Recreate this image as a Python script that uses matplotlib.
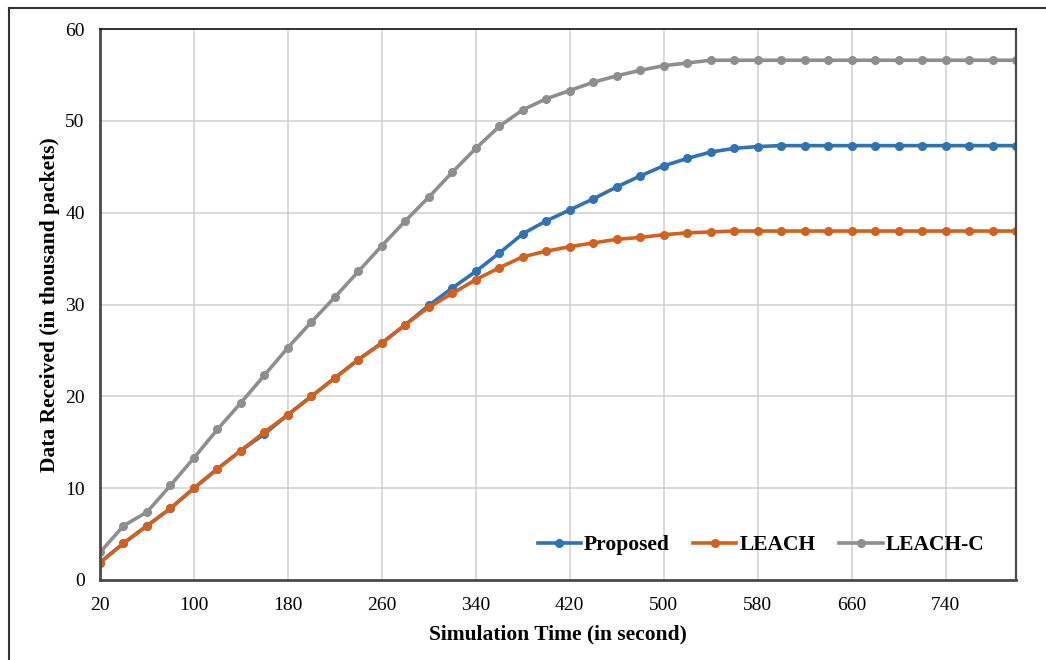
# Data received vs simulation time (Proposed / LEACH / LEACH-C)

import numpy as np
import matplotlib.pyplot as plt
from matplotlib.lines import Line2D

plt.rcParams['font.family'] = ['Liberation Serif', 'DejaVu Serif']

time_s = list(range(20, 801, 20))

proposed = [1.9, 4.0, 5.9, 7.8, 10.0, 12.1, 14.1, 15.9, 18.0, 20.0,
            22.0, 24.0, 25.8, 27.8, 29.9, 31.8, 33.6, 35.6, 37.7, 39.1,
            40.3, 41.5, 42.8, 44.0, 45.1, 45.9, 46.6, 47.0, 47.2, 47.3,
            47.3, 47.3, 47.3, 47.3, 47.3, 47.3, 47.3, 47.3, 47.3, 47.3]

leach = [1.9, 4.0, 5.9, 7.8, 10.0, 12.1, 14.1, 16.1, 18.0, 20.0,
         22.0, 24.0, 25.8, 27.8, 29.7, 31.2, 32.7, 34.0, 35.2, 35.8,
         36.3, 36.7, 37.1, 37.3, 37.6, 37.8, 37.9, 38.0, 38.0, 38.0,
         38.0, 38.0, 38.0, 38.0, 38.0, 38.0, 38.0, 38.0, 38.0, 38.0]

leach_c = [3.0, 5.9, 7.4, 10.3, 13.3, 16.4, 19.3, 22.3, 25.3, 28.1,
           30.8, 33.6, 36.4, 39.1, 41.7, 44.4, 47.0, 49.4, 51.2, 52.4,
           53.3, 54.2, 54.9, 55.5, 56.0, 56.3, 56.6, 56.6, 56.6, 56.6,
           56.6, 56.6, 56.6, 56.6, 56.6, 56.6, 56.6, 56.6, 56.6, 56.6]

x_ticks = [20, 100, 180, 260, 340, 420, 500, 580, 660, 740]

fig = plt.figure(figsize=(10.46, 6.6), dpi=100)
ax = fig.add_axes([100/1046, 80/660, 916/1046, 551/660])

lw = 2.6
ms = 5.5
# same drawing order as the source: Proposed, LEACH, LEACH-C
ax.plot(time_s, proposed, '-o', color='#2F73B4', lw=lw, ms=ms, label='Proposed')
ax.plot(time_s, leach, '-o', color='#D2601F', lw=lw, ms=ms, label='LEACH')
ax.plot(time_s, leach_c, '-o', color='#8E8E8E', lw=lw, ms=ms, label='LEACH-C')

ax.set_xlim(20, 800)
ax.set_ylim(0, 60)
ax.set_xticks(x_ticks)
ax.set_yticks(range(0, 61, 10))
ax.grid(True, color='#D0D0D0', lw=1.1)
ax.set_axisbelow(True)
ax.tick_params(length=0, labelsize=14)
ax.tick_params(axis='x', pad=12)
ax.tick_params(axis='y', pad=11)

for side in ['left', 'bottom']:
    ax.spines[side].set_color('#4A4A4A')
    ax.spines[side].set_linewidth(2.0)
ax.spines['right'].set_color('#4A4A4A')
ax.spines['right'].set_linewidth(1.6)
ax.spines['top'].set_color('#111111')
ax.spines['top'].set_linewidth(1.2)

ax.set_xlabel('Simulation Time (in second)', fontsize=15.5, fontweight='bold', labelpad=8)
ax.set_ylabel('Data Received (in thousand packets)', fontsize=15.5, fontweight='bold', labelpad=4)

ax.legend(loc='center', bbox_to_anchor=(761/1046, 1 - 545/660), bbox_transform=fig.transFigure,
          ncol=3, frameon=False, prop={'weight': 'bold', 'size': 15.5},
          handlelength=2.0, handletextpad=0.15, columnspacing=1.1)

# outer frame (only left and top edges visible in the picture)
fig.add_artist(Line2D([9/1046, 9/1046], [1 - 8/660, 0], transform=fig.transFigure, color='#333333', lw=1.5))
fig.add_artist(Line2D([9/1046, 1], [1 - 8/660, 1 - 8/660], transform=fig.transFigure, color='#333333', lw=1.5))

fig.savefig('out.png', dpi=100)
plt.close()
